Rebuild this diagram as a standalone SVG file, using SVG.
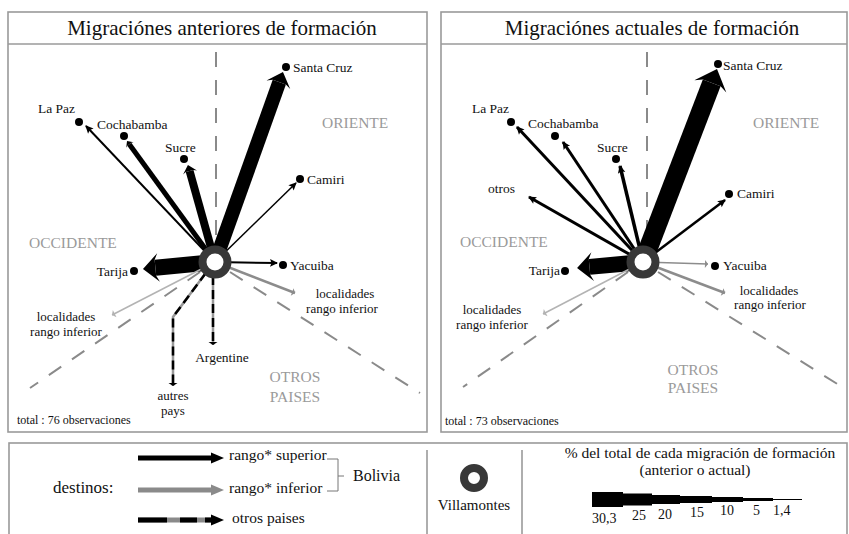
<svg xmlns="http://www.w3.org/2000/svg" width="849" height="534" viewBox="0 0 849 534">
<defs>
<style>
.t{font-family:"Liberation Serif","Times New Roman",serif;fill:#111}
.ttl{font-size:21px;text-anchor:middle}
.lb{font-size:13.5px}
.lc{font-size:13px;text-anchor:middle}
.rg{font-size:15.5px;fill:#9a9a9a}
.tot{font-size:12px}
.lg{font-size:15.5px}
.sc{font-size:14px}
.frame{fill:none;stroke:#9a9a9a;stroke-width:1.6}
.dash{fill:none;stroke:#8a8a8a;stroke-width:2;stroke-dasharray:15 13}
.k{fill:none;stroke:#000;stroke-linecap:butt}
.g{fill:none;stroke:#8c8c8c}
.lg2{fill:none;stroke:#b3b3b3}
.ob{fill:none;stroke:#999;stroke-width:2.5}
.od{fill:none;stroke:#000;stroke-width:2.5;stroke-dasharray:9 5}
.dot{fill:#000}
.ring{fill:#fff;stroke:#383838}
</style>
<marker id="hv" markerUnits="strokeWidth" viewBox="-0.3 -1 1.2 2" markerWidth="1.2" markerHeight="2" refX="0" refY="0" orient="auto" overflow="visible">
<path d="M0,-0.5 L-0.2,-0.9 L0.78,0 L-0.2,0.9 L0,0.5 Z" fill="#000"/>
</marker>
<marker id="th" markerUnits="userSpaceOnUse" viewBox="-1 -5 10 10" markerWidth="10" markerHeight="10" refX="7" refY="0" orient="auto">
<path d="M0,-3.8 L8,0 L0,3.8 L1.5,0 Z" fill="#000"/>
</marker>
<marker id="gb" markerUnits="userSpaceOnUse" viewBox="-1 -5 6 10" markerWidth="6" markerHeight="10" refX="3" refY="0" orient="auto">
<path d="M0,-4 L3,0 L0,4 Z" fill="#8c8c8c"/>
</marker>
<marker id="lb" markerUnits="userSpaceOnUse" viewBox="-1 -5 6 10" markerWidth="6" markerHeight="10" refX="3" refY="0" orient="auto">
<path d="M0,-4 L3,0 L0,4 Z" fill="#b3b3b3"/>
</marker>
<marker id="kb" markerUnits="userSpaceOnUse" viewBox="-1 -5 6 10" markerWidth="6" markerHeight="10" refX="3" refY="0" orient="auto">
<path d="M0,-4.5 L3,0 L0,4.5 Z" fill="#000"/>
</marker>
</defs>
<rect width="849" height="534" fill="#fff"/>

<g id="frames">
<rect class="frame" x="8" y="12" width="419" height="420"/>
<line class="frame" x1="8" y1="44" x2="427" y2="44"/>
<rect class="frame" x="441" y="12" width="406" height="420"/>
<line class="frame" x1="441" y1="44" x2="847" y2="44"/>
<rect class="frame" x="9" y="443" width="838" height="110"/>
<line class="frame" x1="427" y1="450" x2="427" y2="534"/>
<line class="frame" x1="522" y1="450" x2="522" y2="534"/>
</g>

<g id="titles">
<text class="t ttl" x="222" y="35">Migraciónes anteriores de formación</text>
<text class="t ttl" x="652" y="35">Migraciónes actuales de formación</text>
</g>

<g id="dividers">
<line class="dash" x1="216" y1="52" x2="216" y2="250"/>
<line class="dash" x1="200" y1="272" x2="30" y2="388"/>
<line class="dash" x1="230" y1="272" x2="420" y2="393"/>
<line class="dash" x1="647" y1="52" x2="647" y2="250"/>
<line class="dash" x1="628" y1="272" x2="463" y2="387"/>
<line class="dash" x1="658" y1="272" x2="847" y2="390"/>
</g>

<g id="connectors">
<line class="k" x1="215" y1="262" x2="279.3" y2="82.2" stroke-width="14" marker-end="url(#hv)"/>
<line class="k" x1="215" y1="262" x2="155.4" y2="267.8" stroke-width="16" marker-end="url(#hv)"/>
<line class="k" x1="215" y1="262" x2="189.6" y2="171" stroke-width="8" marker-end="url(#hv)"/>
<line class="k" x1="215" y1="262" x2="129.3" y2="144.2" stroke-width="5" marker-end="url(#hv)"/>
<line class="k" x1="215" y1="262" x2="86" y2="126" stroke-width="2" marker-end="url(#th)"/>
<line class="k" x1="215" y1="262" x2="296" y2="183" stroke-width="1.5" marker-end="url(#th)"/>
<line class="k" x1="215" y1="262" x2="277" y2="263" stroke-width="2" marker-end="url(#th)"/>
<line class="g" x1="215" y1="262" x2="295" y2="293" stroke-width="2.5" marker-end="url(#gb)"/>
<line class="lg2" x1="215" y1="262" x2="112" y2="315" stroke-width="1.5" marker-end="url(#lb)"/>
<line class="ob" x1="213" y1="262" x2="213" y2="345"/>
<line class="od" x1="213" y1="262" x2="213" y2="345" marker-end="url(#kb)"/>
<polyline class="ob" points="214,262 173,317 173,386"/>
<polyline class="od" points="214,262 173,317 173,386" marker-end="url(#kb)"/>
<line class="k" x1="643" y1="262" x2="711.7" y2="82.8" stroke-width="19" marker-end="url(#hv)"/>
<line class="k" x1="643" y1="262" x2="589.5" y2="266.9" stroke-width="16" marker-end="url(#hv)"/>
<line class="k" x1="643" y1="262" x2="517" y2="127" stroke-width="3" marker-end="url(#th)"/>
<line class="k" x1="643" y1="262" x2="563" y2="142" stroke-width="3" marker-end="url(#th)"/>
<line class="k" x1="643" y1="262" x2="620" y2="166" stroke-width="3.5" marker-end="url(#th)"/>
<line class="k" x1="643" y1="262" x2="529" y2="197" stroke-width="3" marker-end="url(#th)"/>
<line class="k" x1="643" y1="262" x2="725" y2="200" stroke-width="2.5" marker-end="url(#th)"/>
<line class="g" x1="643" y1="262" x2="708" y2="264" stroke-width="1.5" marker-end="url(#gb)"/>
<line class="g" x1="643" y1="262" x2="725" y2="293" stroke-width="2.5" marker-end="url(#gb)"/>
<line class="lg2" x1="643" y1="262" x2="543" y2="314" stroke-width="1.5" marker-end="url(#lb)"/>
</g>

<g id="villamontes-left"><circle class="ring" cx="215" cy="262" r="12.5" stroke-width="8"/></g>
<g id="villamontes-right"><circle class="ring" cx="643" cy="262" r="12.5" stroke-width="8"/></g>

<g id="left-nodes">
<g id="l-santacruz"><circle class="dot" cx="286" cy="67" r="4"/><text class="t lb" x="293" y="72">Santa Cruz</text></g>
<g id="l-lapaz"><circle class="dot" cx="79" cy="122" r="4"/><text class="t lb" x="38" y="113">La Paz</text></g>
<g id="l-cochabamba"><circle class="dot" cx="124" cy="136" r="4"/><text class="t lb" x="97" y="129">Cochabamba</text></g>
<g id="l-sucre"><circle class="dot" cx="184" cy="159" r="4"/><text class="t lb" x="165" y="152">Sucre</text></g>
<g id="l-camiri"><circle class="dot" cx="300" cy="179" r="4"/><text class="t lb" x="307" y="184">Camiri</text></g>
<g id="l-yacuiba"><circle class="dot" cx="283" cy="265" r="4"/><text class="t lb" x="290" y="270">Yacuiba</text></g>
<g id="l-tarija"><circle class="dot" cx="134" cy="271" r="4"/><text class="t lb" x="128" y="276" text-anchor="end">Tarija</text></g>
<g id="l-loc-right"><text class="t lc" x="345" y="298">localidades</text><text class="t lc" x="342" y="312.5">rango inferior</text></g>
<g id="l-loc-left"><text class="t lc" x="66" y="321">localidades</text><text class="t lc" x="66" y="335.5">rango inferior</text></g>
<g id="l-argentine"><text class="t lb" x="222" y="362" text-anchor="middle">Argentine</text></g>
<g id="l-autres"><text class="t" font-size="13" x="173" y="400" text-anchor="middle">autres</text><text class="t" font-size="13" x="173" y="414.5" text-anchor="middle">pays</text></g>
<text class="t rg" x="322" y="128">ORIENTE</text>
<text class="t rg" x="29" y="248">OCCIDENTE</text>
<text class="t rg" x="295" y="382" text-anchor="middle">OTROS</text>
<text class="t rg" x="295" y="402" text-anchor="middle">PAISES</text>
<text class="t tot" x="17" y="424">total : 76 observaciones</text>
</g>

<g id="right-nodes">
<g id="r-santacruz"><circle class="dot" cx="718" cy="64" r="4"/><text class="t lb" x="723" y="70">Santa Cruz</text></g>
<g id="r-lapaz"><circle class="dot" cx="511" cy="122" r="4"/><text class="t lb" x="472" y="113">La Paz</text></g>
<g id="r-cochabamba"><circle class="dot" cx="555" cy="136" r="4"/><text class="t lb" x="528" y="128">Cochabamba</text></g>
<g id="r-sucre"><circle class="dot" cx="616" cy="159" r="4"/><text class="t lb" x="597" y="152">Sucre</text></g>
<g id="r-otros"><text class="t lb" x="488" y="193">otros</text></g>
<g id="r-camiri"><circle class="dot" cx="729" cy="194" r="4"/><text class="t lb" x="737" y="198">Camiri</text></g>
<g id="r-yacuiba"><circle class="dot" cx="715" cy="266" r="4"/><text class="t lb" x="723" y="270">Yacuiba</text></g>
<g id="r-tarija"><circle class="dot" cx="565" cy="271" r="4"/><text class="t lb" x="560" y="275" text-anchor="end">Tarija</text></g>
<g id="r-loc-right"><text class="t lc" x="769" y="294.5">localidades</text><text class="t lc" x="770" y="309">rango inferior</text></g>
<g id="r-loc-left"><text class="t lc" x="492" y="314">localidades</text><text class="t lc" x="492" y="328.5">rango inferior</text></g>
<text class="t rg" x="753" y="128">ORIENTE</text>
<text class="t rg" x="460" y="247">OCCIDENTE</text>
<text class="t rg" x="693" y="375" text-anchor="middle">OTROS</text>
<text class="t rg" x="693" y="393" text-anchor="middle">PAISES</text>
<text class="t tot" x="445" y="425">total : 73 observaciones</text>
</g>

<g id="legend">
<text class="t" x="53" y="493" font-size="17">destinos:</text>
<line x1="138" y1="458" x2="213" y2="458" stroke="#000" stroke-width="5"/>
<path d="M211,452.5 L224,458 L211,463.5 Z" fill="#000"/>
<text class="t lg" x="229" y="460">rango* superior</text>
<line x1="138" y1="490" x2="213" y2="490" stroke="#8a8a8a" stroke-width="5"/>
<path d="M211,484.5 L224,490 L211,495.5 Z" fill="#8a8a8a"/>
<text class="t lg" x="229" y="493">rango* inferior</text>
<line x1="138" y1="520" x2="213" y2="520" stroke="#8a8a8a" stroke-width="5"/>
<path d="M138,520 H167 M180,520 H197 M205,520 H213" stroke="#000" stroke-width="5" fill="none"/>
<path d="M211,514.5 L224,520 L211,525.5 Z" fill="#000"/>
<text class="t lg" x="232" y="523">otros paises</text>
<path d="M327,459 H338 V491 H327 M338,476 H344" fill="none" stroke="#777" stroke-width="1"/>
<text class="t" x="353" y="481" font-size="16">Bolivia</text>
<g id="legend-villamontes"><circle class="ring" cx="474" cy="478" r="10" stroke-width="8"/>
<text class="t" x="474" y="510" font-size="15" text-anchor="middle">Villamontes</text></g>
<text class="t lg" x="700" y="457.5" text-anchor="middle">% del total de cada migración de formación</text>
<text class="t" font-size="15.5" x="695" y="474.5" text-anchor="middle">(anterior o actual)</text>
<path d="M592,492 H623 V493.5 H652 V495 H680 V496 H712 V497 H743 V498 H773 V499 H802 V500 H773 V501 H743 V502 H712 V503 H680 V504 H652 V505.5 H623 V507 H592 Z" fill="#000"/>
<text class="t sc" x="592" y="523">30,3</text>
<text class="t sc" x="632" y="520">25</text>
<text class="t sc" x="658" y="519">20</text>
<text class="t sc" x="690" y="517">15</text>
<text class="t sc" x="720" y="515">10</text>
<text class="t sc" x="753" y="515">5</text>
<text class="t sc" x="773" y="515">1,4</text>
</g>
</svg>
